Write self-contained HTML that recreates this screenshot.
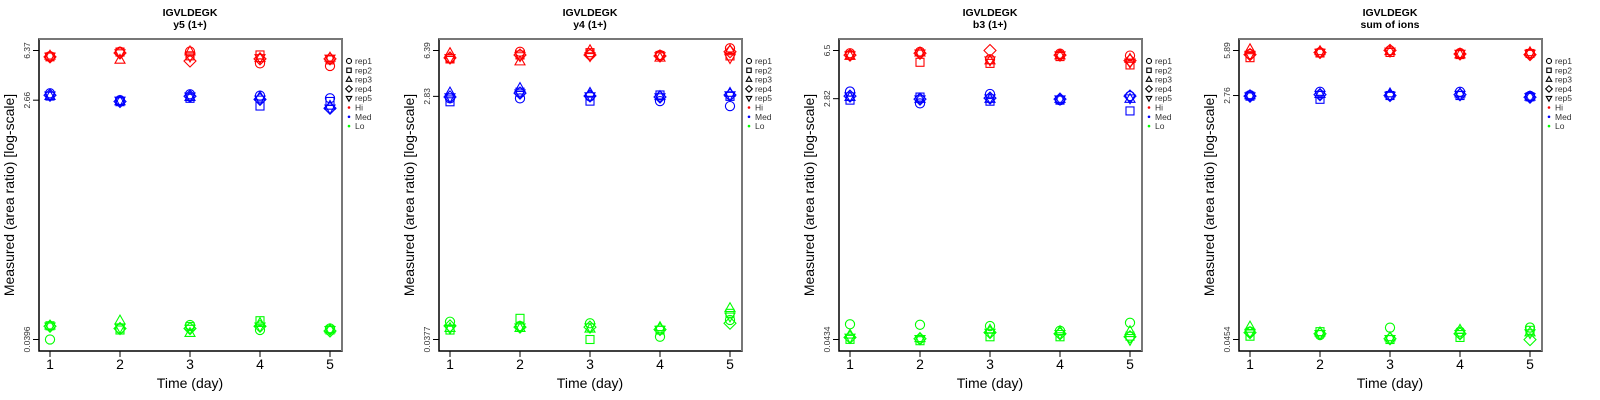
<!DOCTYPE html>
<html><head><meta charset="utf-8"><style>
html,body{margin:0;padding:0;background:#fff;}
svg{display:block;font-family:"Liberation Sans",Arial,sans-serif;}
</style></head><body>
<svg id="chart" width="1600" height="400" viewBox="0 0 1600 400"></svg>
<script>
const days = [1,2,3,4,5];
const reps = ["rep1","rep2","rep3","rep4","rep5"];
const titles = ["y5 (1+)","y4 (1+)","b3 (1+)","sum of ions"];
const tickLabels = [["6.37","2.66","0.0396"],["6.39","2.83","0.0377"],["6.5","2.82","0.0434"],["5.89","2.76","0.0454"]];
const tickValues = [[6.37,2.66,0.0396],[6.39,2.83,0.0377],[6.5,2.82,0.0434],[5.89,2.76,0.0454]];
// values indexed [day][rep]
const p1Hi = [[5.75,5.7,5.8,5.7,5.75],[6.23,6.2,5.39,6.1,6.1],[6.25,5.8,6.25,5.3,5.75],[5.08,5.89,5.55,5.5,5.6],[4.85,5.4,5.6,5.5,5.55]];
const p1Med = [[3.0,2.86,2.85,2.9,2.9],[2.66,2.59,2.6,2.6,2.65],[2.95,2.75,2.8,2.85,2.85],[2.88,2.4,2.82,2.7,2.7],[2.75,2.6,2.4,2.31,2.31]];
const p1Lo = [[0.0396,0.0504,0.0504,0.05,0.05],[0.048,0.0468,0.0551,0.048,0.049],[0.0511,0.0497,0.0442,0.048,0.048],[0.0468,0.0551,0.0527,0.05,0.05],[0.048,0.0468,0.0472,0.046,0.047]];
const p2Hi = [[5.55,5.5,6.08,5.6,5.6],[6.25,5.9,5.24,5.9,5.8],[5.95,6.15,6.4,5.9,5.8],[5.9,5.85,5.6,5.8,5.8],[6.65,5.8,6.4,6.25,5.6]];
const p2Med = [[2.73,2.57,3.02,2.8,2.8],[2.73,3.05,3.27,3.0,3.0],[2.83,2.6,3.0,2.85,2.85],[2.6,2.9,2.83,2.8,2.8],[2.38,2.83,3.0,2.9,2.9]];
const p2Lo = [[0.0517,0.0446,0.046,0.048,0.046],[0.0479,0.0549,0.046,0.047,0.047],[0.0503,0.0377,0.0455,0.047,0.047],[0.0396,0.0446,0.0468,0.045,0.045],[0.0533,0.060,0.0656,0.0503,0.057]];
const p3Hi = [[6.2,6.0,5.9,6.0,6.0],[6.35,5.3,6.25,6.2,6.2],[5.58,5.2,5.45,6.5,5.5],[6.15,5.85,5.95,6.0,6.0],[5.95,5.06,5.6,5.45,5.3]];
const p3Med = [[3.19,2.75,2.89,2.95,2.95],[2.6,2.9,2.8,2.8,2.8],[3.06,2.7,2.8,2.85,2.85],[2.75,2.75,2.8,2.8,2.8],[2.95,2.28,2.8,2.95,2.85]];
const p3Lo = [[0.0565,0.0435,0.047,0.045,0.045],[0.056,0.0425,0.0443,0.044,0.044],[0.0548,0.0455,0.0512,0.049,0.049],[0.0505,0.0455,0.05,0.048,0.048],[0.058,0.046,0.05,0.0455,0.0432]];
const p4Hi = [[5.55,5.22,6.0,5.5,5.5],[5.7,5.65,5.8,5.7,5.7],[5.9,5.7,5.8,5.9,5.8],[5.65,5.5,5.5,5.55,5.6],[5.6,5.6,5.7,5.5,5.6]];
const p4Med = [[2.78,2.73,2.76,2.73,2.73],[2.94,2.59,2.82,2.8,2.8],[2.76,2.76,2.85,2.76,2.76],[2.94,2.76,2.85,2.8,2.8],[2.74,2.7,2.7,2.68,2.7]];
const p4Lo = [[0.0518,0.048,0.0563,0.051,0.051],[0.049,0.0518,0.051,0.05,0.05],[0.0554,0.0454,0.047,0.046,0.046],[0.0518,0.047,0.0533,0.05,0.05],[0.0555,0.053,0.051,0.0453,0.0507]];
const panels = [[p1Hi,p1Med,p1Lo],[p2Hi,p2Med,p2Lo],[p3Hi,p3Med,p3Lo],[p4Hi,p4Med,p4Lo]];
const groupColors = ["#ff0000","#0000ff","#00ff00"];
const groupNames = ["Hi","Med","Lo"];

const NS = "http://www.w3.org/2000/svg";
const svg = document.getElementById("chart");
function mk(tag, attrs, parent, text){
  const e = document.createElementNS(NS, tag);
  for (const k in attrs) e.setAttribute(k, attrs[k]);
  if (text !== undefined) e.textContent = text;
  (parent || svg).appendChild(e);
  return e;
}
function marker(g, shape, cx, cy, color, s){
  s = s || 1;
  let e;
  if (shape === 0) e = mk("circle",{cx:cx,cy:cy,r:4.6*s,fill:"none",stroke:color,"stroke-width":1.1},g);
  else if (shape === 1) e = mk("rect",{x:cx-4*s,y:cy-4*s,width:8*s,height:8*s,fill:"none",stroke:color,"stroke-width":1.1},g);
  else if (shape === 2) e = mk("polygon",{points:`${cx},${cy-5.6*s} ${cx+5*s},${cy+3.2*s} ${cx-5*s},${cy+3.2*s}`,fill:"none",stroke:color,"stroke-width":1.1},g);
  else if (shape === 3) e = mk("polygon",{points:`${cx},${cy-6*s} ${cx+6*s},${cy} ${cx},${cy+6*s} ${cx-6*s},${cy}`,fill:"none",stroke:color,"stroke-width":1.1},g);
  else e = mk("polygon",{points:`${cx},${cy+5.6*s} ${cx+5*s},${cy-3.2*s} ${cx-5*s},${cy-3.2*s}`,fill:"none",stroke:color,"stroke-width":1.1},g);
  return e;
}

panels.forEach((groups, p) => {
  const ox = p*400;
  const g = mk("g",{});
  
  
  const yTop = 50.5, yBot = 339.5;
  const lt = Math.log10(tickValues[p][0]), lb = Math.log10(tickValues[p][2]);
  const yScale = v => yTop + (lt - Math.log10(v))/(lt - lb)*(yBot - yTop);
  const xScale = d => ox + 50 + (d-1)*70;

  const t1 = mk("text",{x:ox+190,y:16,"text-anchor":"middle","font-size":"10.5","font-weight":"bold"},g,"IGVLDEGK");
  
  
  const t2 = mk("text",{x:ox+190,y:28,"text-anchor":"middle","font-size":"10.5","font-weight":"bold"},g,titles[p]);
  
  

  const box = mk("rect",{x:ox+39,y:39,width:303,height:312,fill:"none",stroke:"#000","stroke-width":1.5},g);
  
  
  mk("line",{x1:ox+342,y1:39,x2:ox+342,y2:351,stroke:"#777","stroke-width":2},g);
  mk("line",{x1:ox+39,y1:39,x2:ox+342,y2:39,stroke:"#777","stroke-width":2},g);

  tickValues[p].forEach((tv, i) => {
    const y = yScale(tv);
    mk("line",{x1:ox+33,y1:y,x2:ox+39,y2:y,stroke:"#000","stroke-width":1},g);
    const tl = mk("text",{x:ox+30,y:y,"text-anchor":"middle","font-size":"8.5",fill:"#333",transform:`rotate(-90 ${ox+30} ${y})`},g,tickLabels[p][i]);
    
    
  });
  days.forEach(d => {
    const x = xScale(d);
    mk("line",{x1:x,y1:351,x2:x,y2:357,stroke:"#000","stroke-width":1},g);
    const tl = mk("text",{x:x,y:369,"text-anchor":"middle","font-size":"14"},g,String(d));
    
    
  });
  const xl = mk("text",{x:ox+190,y:388,"text-anchor":"middle","font-size":"14"},g,"Time (day)");
  
  
  const yl = mk("text",{x:ox+14,y:195,"text-anchor":"middle","font-size":"14",transform:`rotate(-90 ${ox+14} 195)`},g,"Measured (area ratio) [log-scale]");
  
  

  groups.forEach((data, gi) => {
    data.forEach((row, di) => {
      row.forEach((v, ri) => {
        const m = marker(g, ri, xScale(days[di]), yScale(v), groupColors[gi]);
        
        
      });
    });
  });

  const lg = mk("g",{},g);
  
  
  reps.forEach((r, i) => {
    const y = 61 + i*9.3;
    marker(lg, i, ox+349, y, "#000", 0.55);
    const t = mk("text",{x:ox+355,y:y+3,"font-size":"8.5",fill:"#333"},lg,r);
    
    
  });
  groupNames.forEach((n, i) => {
    const y = 61 + (5+i)*9.3;
    mk("circle",{cx:ox+349,cy:y,r:1.3,fill:groupColors[i]},lg);
    const t = mk("text",{x:ox+355,y:y+3,"font-size":"8.5",fill:"#333"},lg,n);
    
    
  });
});
</script>
</body></html>
